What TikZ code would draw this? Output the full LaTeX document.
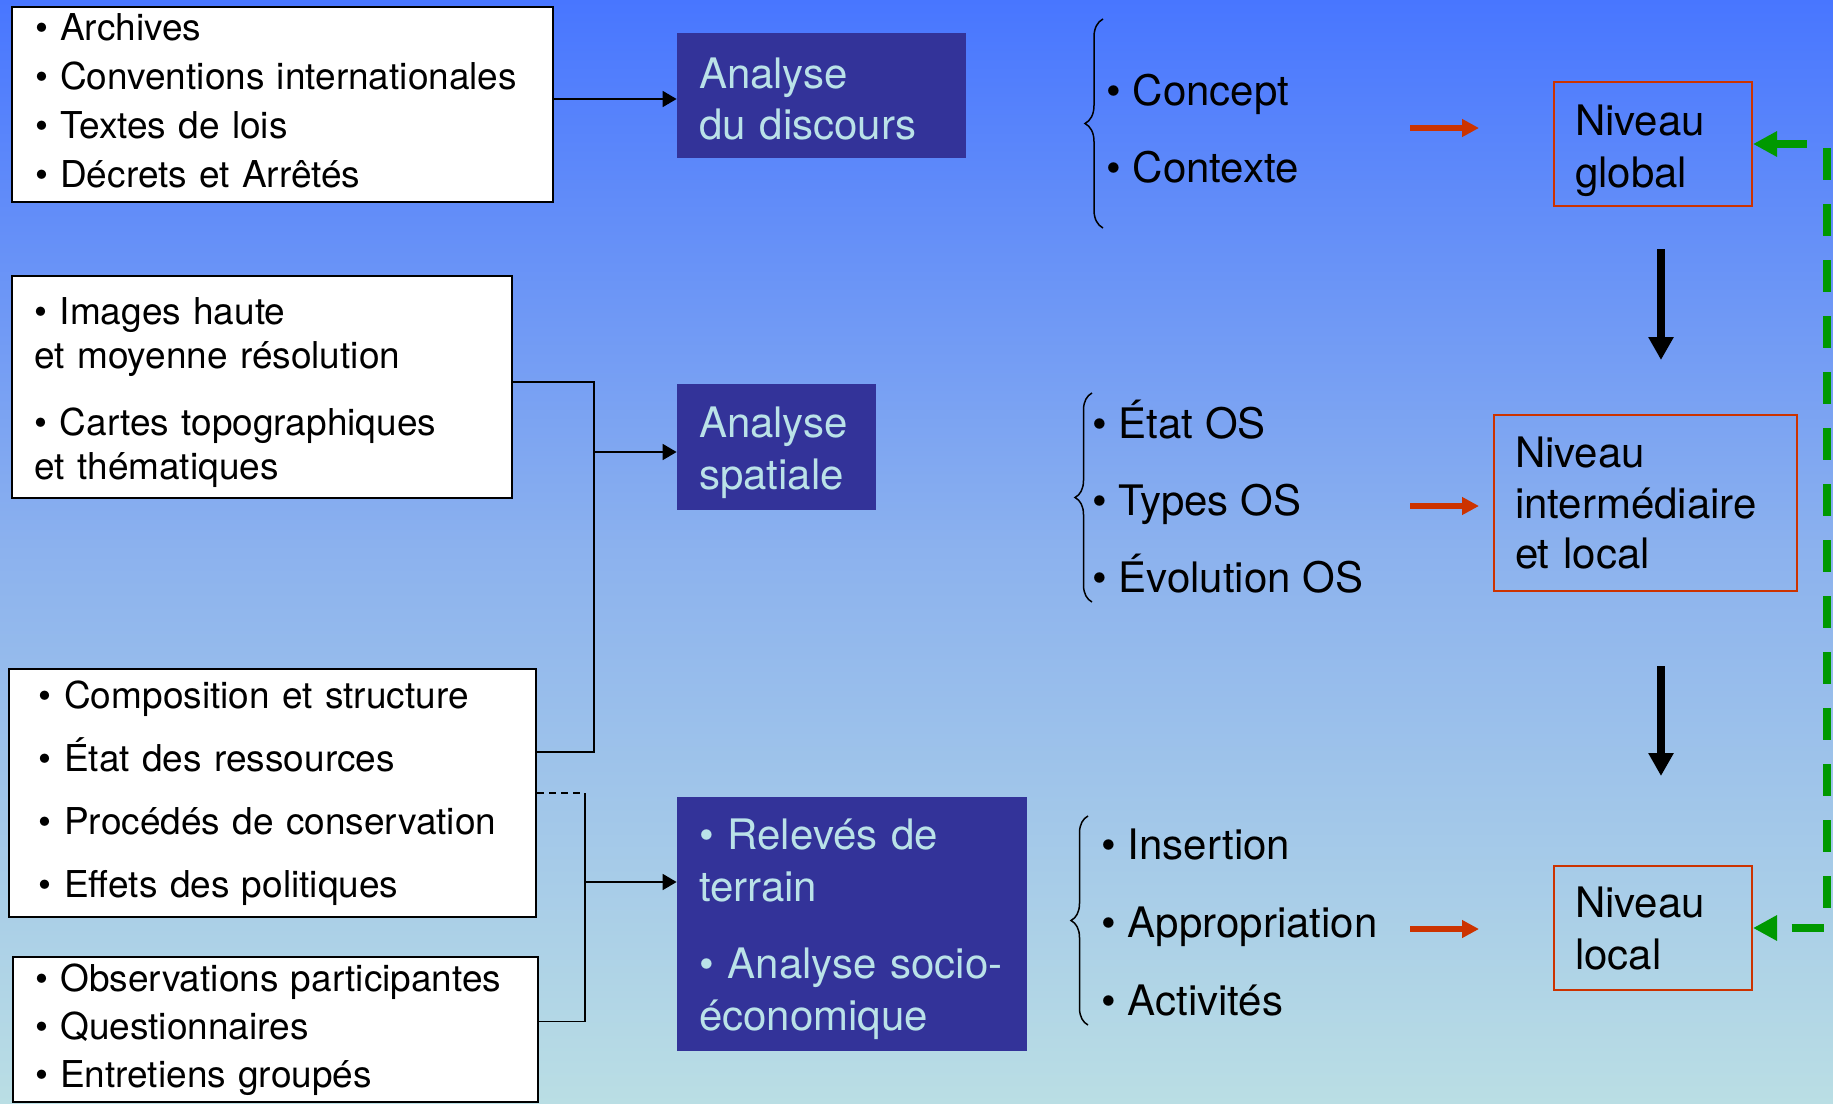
\documentclass[tikz,border=0pt]{standalone}
\usepackage{fontspec}
\setmainfont{TeX Gyre Heros}
\usepackage{xcolor}
\usepackage{tikz}
\usetikzlibrary{arrows.meta, decorations.pathreplacing}
\definecolor{bgtop}{RGB}{72,118,255}
\definecolor{bgmid}{RGB}{140,178,238}
\definecolor{bgbot}{RGB}{186,222,228}
\definecolor{anafill}{RGB}{51,51,153}
\definecolor{anatext}{RGB}{186,226,232}
\definecolor{nivred}{RGB}{204,51,0}
\definecolor{flowgreen}{RGB}{0,153,0}
\tikzset{
  srcbox/.style={draw, line width=1pt, fill=white, align=left, inner ysep=0pt},
  anabox/.style={fill=anafill, text=anatext, align=left, inner xsep=11pt, inner ysep=0pt,
    font=\fontsize{21}{25.5}\selectfont},
  nivbox/.style={draw=nivred, line width=1pt, align=left, inner xsep=10.5pt, inner ysep=0pt,
    font=\fontsize{21}{26}\selectfont},
  lst/.style={anchor=west, align=left, inner sep=0pt}
}
\tikzset{
  link/.style={line width=0.9pt},
  conn/.style={link, -{Triangle[length=7pt,width=8pt]}},
  brc/.style={line width=0.75pt, decorate, decoration={brace, amplitude=#1}},
  brc/.default=9pt,
  redarr/.style={nivred, line width=3pt, -{Triangle[length=8.5pt,width=8.5pt]}},
  downarr/.style={line width=4pt, -{Triangle[length=11.5pt,width=12pt]}},
  backarr/.style={flowgreen, line width=4pt, dash pattern=on 16pt off 12pt, dash phase=20pt,
    {Triangle[length=12pt,width=12pt]}-{Triangle[length=12pt,width=12pt]}}
}
\newcommand\XNiv{1653}
\begin{document}
\begin{tikzpicture}[x=0.5pt, y=-0.5pt]
\useasboundingbox (0,0) rectangle (1833,1104);
\shade[top color=bgtop, bottom color=bgbot, middle color=bgmid] (0,0) rectangle (1833,1104);

\node[srcbox, font=\fontsize{18.5}{24.5}\selectfont, inner xsep=11.5pt, text width=247.5pt, text height=13.5pt, text depth=78pt, minimum height=97.5pt] (srcA) at (282.5,104.5) {• Archives\\• Conventions internationales\\• Textes de lois\\• Décrets et Arrêtés};
\node[srcbox, font=\fontsize{18.5}{22}\selectfont, inner xsep=11.5pt, text width=227pt, text height=19.3pt, text depth=81.4pt, minimum height=111pt] (srcB) at (261.5,387) {• Images haute\\et moyenne résolution\\[11.5pt]• Cartes topographiques\\et thématiques};
\node[srcbox, font=\fontsize{18.5}{31.5}\selectfont, inner xsep=15pt, text width=233.5pt, minimum height=124pt] (srcC) at (272.5,793) {• Composition et structure\\• État des ressources\\• Procédés de conservation\\• Effets des politiques};
\node[srcbox, font=\fontsize{18.5}{24}\selectfont, inner xsep=11pt, text width=240.5pt, minimum height=72.5pt] (srcD) at (275.5,1029.5) {• Observations participantes\\• Questionnaires\\• Entretiens groupés};

\node[anabox, text width=122.5pt, text height=18.2pt, text depth=25.5pt, minimum height=62.5pt] (anaDisc) at (821.5,95.5) {Analyse\\du discours};
\node[anabox, font=\fontsize{21}{26}\selectfont, text width=77.5pt, text height=21pt, text depth=30.4pt, minimum height=63pt] (anaSpat) at (776.5,447) {Analyse\\spatiale};
\node[anabox, font=\fontsize{21}{26}\selectfont, text width=153pt, text height=20.2pt, text depth=94.9pt, minimum height=127pt] (anaTerr) at (852,924) {• Relevés de\\terrain\\[12.5pt]• Analyse socio-\\économique};

\node[lst, font=\fontsize{21}{38.5}\selectfont] (lstDisc) at (1106,128.5) {• Concept\\• Contexte};
\node[lst, font=\fontsize{21}{38.5}\selectfont] (lstSpat) at (1092,497) {• État OS\\• Types OS\\• Évolution OS};
\node[lst, font=\fontsize{21}{39}\selectfont] (lstTerr) at (1101,922) {• Insertion\\• Appropriation\\• Activités};

\node[nivbox, text width=78pt, text height=21.6pt, text depth=30.4pt, minimum height=62pt] (nivG) at (\XNiv,144) {Niveau\\global};
\node[nivbox, font=\fontsize{21}{25.3}\selectfont, text width=130.5pt, minimum height=88pt] (nivI) at (1645.5,503) {Niveau\\intermédiaire\\et local};
\node[nivbox, text width=78pt, minimum height=62pt] (nivL) at (\XNiv,928) {Niveau\\local};

\draw[brc] (1103,228) -- (1103,19);
\draw[brc=8.5pt] (1092,602) -- (1092,393);
\draw[brc=8.5pt] (1088,1025) -- (1088,816);

\coordinate (aOut) at ([yshift=2.75pt]srcA.east);
\coordinate (bOut) at ([yshift=2.5pt]srcB.east);
\coordinate (cOut) at ([yshift=20.5pt]srcC.east);
\coordinate (dOut) at ([yshift=4pt]srcD.east);
\coordinate (jSpat) at (594,452);
\coordinate (jTerr) at (585,882);

\draw[conn] (aOut) -- (aOut -| anaDisc.west);
\draw[link] (bOut) -| (jSpat) |- (cOut);
\draw[conn] (jSpat) -- (jSpat -| anaSpat.west);
\draw[link, dash pattern=on 3.5pt off 2.5pt] (srcC.east) -- (srcC.east -| jTerr);
\draw[link] (srcC.east -| jTerr) |- (dOut);
\draw[conn] (jTerr) -- (jTerr -| anaTerr.west);

\foreach \y [count=\i] in {128,506,929} {
  \coordinate (ra\i) at (1410,\y);
  \coordinate (rb\i) at (1479,\y);
  \draw[redarr] (ra\i) -- (rb\i);
}

\coordinate (da1) at (1661,249);
\coordinate (db1) at (1661,360);
\coordinate (da2) at (1661,666);
\coordinate (db2) at (1661,776);
\draw[downarr] (da1) -- (db1);
\draw[downarr] (da2) -- (db2);

\draw[backarr] (nivL.east) -- ++(74,0) |- (nivG.east);
\end{tikzpicture}
\end{document}
